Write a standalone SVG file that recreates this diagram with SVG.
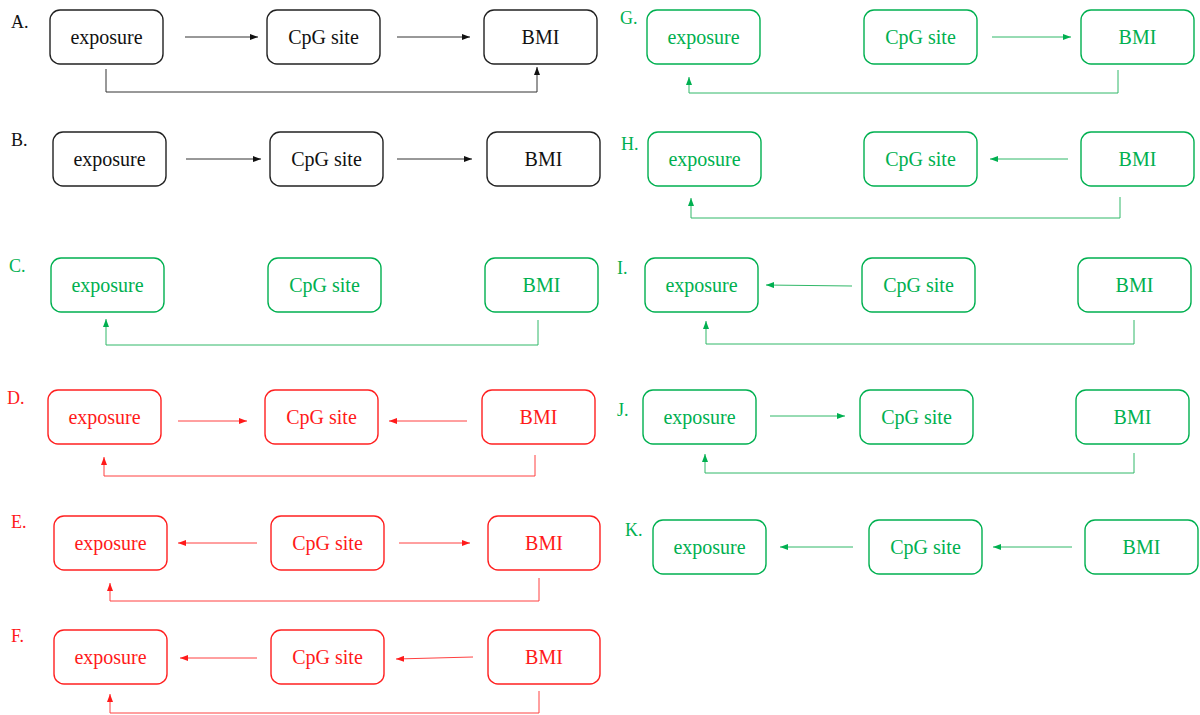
<svg xmlns="http://www.w3.org/2000/svg" width="1200" height="715" viewBox="0 0 1200 715" font-family="'Liberation Serif', 'Times New Roman', serif">
<style>
.box{fill:#fff;stroke-width:1.4}
.k .box{stroke:#222}.g .box{stroke:#00b050}.r .box{stroke:#ff2020}
.t{font-family:'Liberation Serif','Times New Roman',serif;font-size:20px;text-anchor:middle}
.k .t{fill:#111}.g .t{fill:#00b050}.r .t{fill:#ff1a1a}
.lbl{text-anchor:start;font-size:18px}
.c{fill:none;stroke-width:1}
.ck{stroke:#333;marker-end:url(#mk)}.cg{stroke:#30b868;marker-end:url(#mg)}.cr{stroke:#ff4040;marker-end:url(#mr)}
</style>
<defs>
<marker id="mk" viewBox="0 0 8 6" refX="8" refY="3" markerWidth="8" markerHeight="6" markerUnits="userSpaceOnUse" orient="auto"><path d="M0,0L8,3L0,6z" fill="#111"/></marker>
<marker id="mg" viewBox="0 0 8 6" refX="8" refY="3" markerWidth="8" markerHeight="6" markerUnits="userSpaceOnUse" orient="auto"><path d="M0,0L8,3L0,6z" fill="#00b050"/></marker>
<marker id="mr" viewBox="0 0 8 6" refX="8" refY="3" markerWidth="8" markerHeight="6" markerUnits="userSpaceOnUse" orient="auto"><path d="M0,0L8,3L0,6z" fill="#ff1a1a"/></marker>
</defs>

<!-- A -->
<g id="panelA" class="k">
<text class="t lbl" x="11" y="28">A.</text>
<g id="A-exposure"><rect class="box" x="50" y="10" width="113" height="54" rx="10"/><text class="t" x="106.5" y="44">exposure</text></g>
<g id="A-cpg"><rect class="box" x="267" y="10" width="113" height="54" rx="10"/><text class="t" x="323.5" y="44">CpG site</text></g>
<g id="A-bmi"><rect class="box" x="484" y="10" width="113" height="54" rx="10"/><text class="t" x="540.5" y="44">BMI</text></g>
</g>
<!-- B -->
<g id="panelB" class="k">
<text class="t lbl" x="11" y="146">B.</text>
<g id="B-exposure"><rect class="box" x="53" y="132" width="113" height="54" rx="10"/><text class="t" x="109.5" y="166">exposure</text></g>
<g id="B-cpg"><rect class="box" x="270" y="132" width="113" height="54" rx="10"/><text class="t" x="326.5" y="166">CpG site</text></g>
<g id="B-bmi"><rect class="box" x="487" y="132" width="113" height="54" rx="10"/><text class="t" x="543.5" y="166">BMI</text></g>
</g>
<!-- C -->
<g id="panelC" class="g">
<text class="t lbl" x="9" y="272">C.</text>
<g id="C-exposure"><rect class="box" x="51" y="258" width="113" height="54" rx="10"/><text class="t" x="107.5" y="292">exposure</text></g>
<g id="C-cpg"><rect class="box" x="268" y="258" width="113" height="54" rx="10"/><text class="t" x="324.5" y="292">CpG site</text></g>
<g id="C-bmi"><rect class="box" x="485" y="258" width="113" height="54" rx="10"/><text class="t" x="541.5" y="292">BMI</text></g>
</g>
<!-- D -->
<g id="panelD" class="r">
<text class="t lbl" x="7" y="404">D.</text>
<g id="D-exposure"><rect class="box" x="48" y="390" width="113" height="54" rx="10"/><text class="t" x="104.5" y="424">exposure</text></g>
<g id="D-cpg"><rect class="box" x="265" y="390" width="113" height="54" rx="10"/><text class="t" x="321.5" y="424">CpG site</text></g>
<g id="D-bmi"><rect class="box" x="482" y="390" width="113" height="54" rx="10"/><text class="t" x="538.5" y="424">BMI</text></g>
</g>
<!-- E -->
<g id="panelE" class="r">
<text class="t lbl" x="11" y="528">E.</text>
<g id="E-exposure"><rect class="box" x="54" y="516" width="113" height="54" rx="10"/><text class="t" x="110.5" y="550">exposure</text></g>
<g id="E-cpg"><rect class="box" x="271" y="516" width="113" height="54" rx="10"/><text class="t" x="327.5" y="550">CpG site</text></g>
<g id="E-bmi"><rect class="box" x="488" y="516" width="112" height="54" rx="10"/><text class="t" x="544" y="550">BMI</text></g>
</g>
<!-- F -->
<g id="panelF" class="r">
<text class="t lbl" x="11" y="642">F.</text>
<g id="F-exposure"><rect class="box" x="54" y="630" width="113" height="54" rx="10"/><text class="t" x="110.5" y="664">exposure</text></g>
<g id="F-cpg"><rect class="box" x="271" y="630" width="113" height="54" rx="10"/><text class="t" x="327.5" y="664">CpG site</text></g>
<g id="F-bmi"><rect class="box" x="488" y="630" width="112" height="54" rx="10"/><text class="t" x="544" y="664">BMI</text></g>
</g>
<!-- G -->
<g id="panelG" class="g">
<text class="t lbl" x="620" y="24">G.</text>
<g id="G-exposure"><rect class="box" x="647" y="10" width="113" height="54" rx="10"/><text class="t" x="703.5" y="44">exposure</text></g>
<g id="G-cpg"><rect class="box" x="864" y="10" width="113" height="54" rx="10"/><text class="t" x="920.5" y="44">CpG site</text></g>
<g id="G-bmi"><rect class="box" x="1081" y="10" width="113" height="54" rx="10"/><text class="t" x="1137.5" y="44">BMI</text></g>
</g>
<!-- H -->
<g id="panelH" class="g">
<text class="t lbl" x="621" y="150">H.</text>
<g id="H-exposure"><rect class="box" x="648" y="132" width="113" height="54" rx="10"/><text class="t" x="704.5" y="166">exposure</text></g>
<g id="H-cpg"><rect class="box" x="864" y="132" width="113" height="54" rx="10"/><text class="t" x="920.5" y="166">CpG site</text></g>
<g id="H-bmi"><rect class="box" x="1081" y="132" width="113" height="54" rx="10"/><text class="t" x="1137.5" y="166">BMI</text></g>
</g>
<!-- I -->
<g id="panelI" class="g">
<text class="t lbl" x="617" y="274">I.</text>
<g id="I-exposure"><rect class="box" x="645" y="258" width="113" height="54" rx="10"/><text class="t" x="701.5" y="292">exposure</text></g>
<g id="I-cpg"><rect class="box" x="862" y="258" width="113" height="54" rx="10"/><text class="t" x="918.5" y="292">CpG site</text></g>
<g id="I-bmi"><rect class="box" x="1078" y="258" width="113" height="54" rx="10"/><text class="t" x="1134.5" y="292">BMI</text></g>
</g>
<!-- J -->
<g id="panelJ" class="g">
<text class="t lbl" x="617" y="416">J.</text>
<g id="J-exposure"><rect class="box" x="643" y="390" width="113" height="54" rx="10"/><text class="t" x="699.5" y="424">exposure</text></g>
<g id="J-cpg"><rect class="box" x="860" y="390" width="113" height="54" rx="10"/><text class="t" x="916.5" y="424">CpG site</text></g>
<g id="J-bmi"><rect class="box" x="1076" y="390" width="113" height="54" rx="10"/><text class="t" x="1132.5" y="424">BMI</text></g>
</g>
<!-- K -->
<g id="panelK" class="g">
<text class="t lbl" x="625" y="536">K.</text>
<g id="K-exposure"><rect class="box" x="653" y="520" width="113" height="54" rx="10"/><text class="t" x="709.5" y="554">exposure</text></g>
<g id="K-cpg"><rect class="box" x="869" y="520" width="113" height="54" rx="10"/><text class="t" x="925.5" y="554">CpG site</text></g>
<g id="K-bmi"><rect class="box" x="1085" y="520" width="113" height="54" rx="10"/><text class="t" x="1141.5" y="554">BMI</text></g>
</g>

<g id="connectors">
<!-- A -->
<path class="c ck" d="M185,37H258"/>
<path class="c ck" d="M397,37H470"/>
<path class="c ck" d="M106,69V92H537V67"/>
<!-- B -->
<path class="c ck" d="M186,159H261"/>
<path class="c ck" d="M397,159H472"/>
<!-- C -->
<path class="c cg" d="M538,320V345H106V319"/>
<!-- D -->
<path class="c cr" d="M178,421H247"/>
<path class="c cr" d="M467,421H389"/>
<path class="c cr" d="M535,455V476H104V457"/>
<!-- E -->
<path class="c cr" d="M257,543H178"/>
<path class="c cr" d="M399,543H470"/>
<path class="c cr" d="M539,578V601H110V583"/>
<!-- F -->
<path class="c cr" d="M257,658H180"/>
<path class="c cr" d="M473,657L396,659"/>
<path class="c cr" d="M539,691V713H110V694"/>
<!-- G -->
<path class="c cg" d="M992,37H1071"/>
<path class="c cg" d="M1118,70V93H689V77"/>
<!-- H -->
<path class="c cg" d="M1068,159H990"/>
<path class="c cg" d="M1120,197V218H691V198"/>
<!-- I -->
<path class="c cg" d="M852,286L766,285"/>
<path class="c cg" d="M1134,320V344H706V321"/>
<!-- J -->
<path class="c cg" d="M770,416H845"/>
<path class="c cg" d="M1134,453V473H705V454"/>
<!-- K -->
<path class="c cg" d="M853,547H780"/>
<path class="c cg" d="M1072,547H993"/>
</g>
</svg>
